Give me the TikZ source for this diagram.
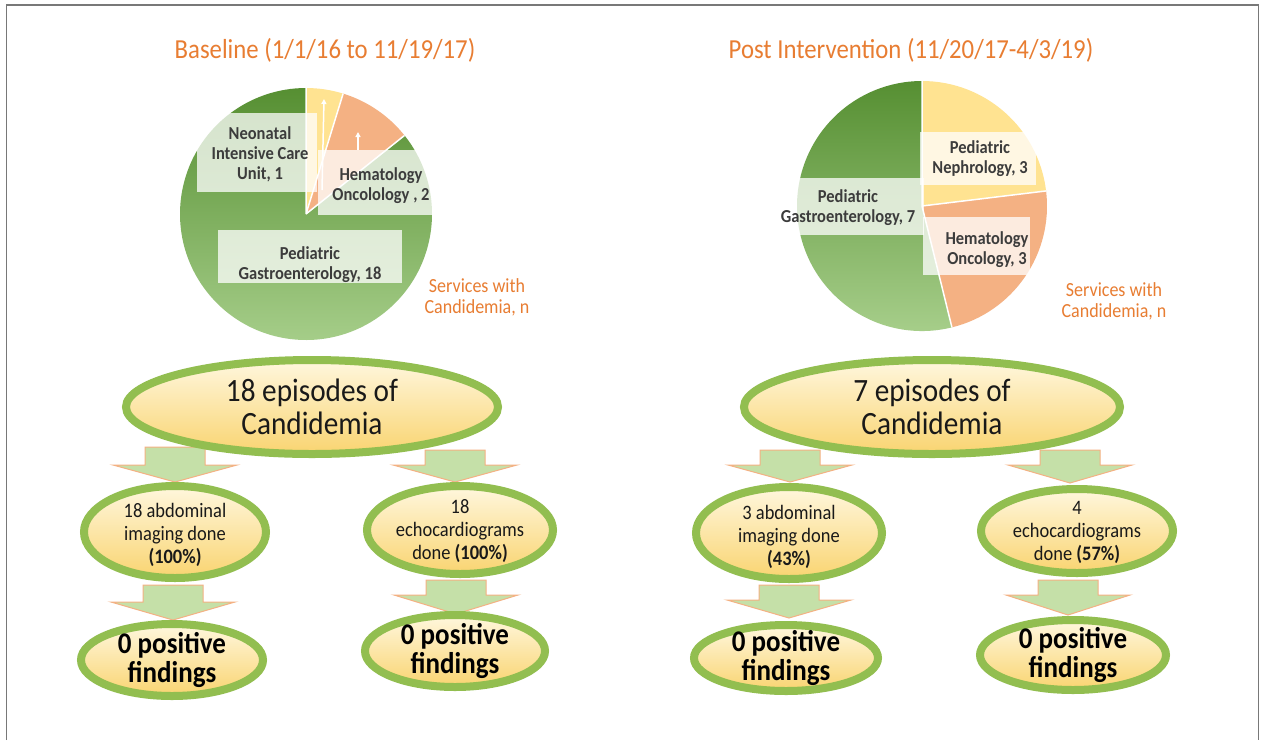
\documentclass[tikz,border=0pt]{standalone}
\usepackage{fontspec}
\setmainfont{Carlito}[FakeStretch=0.9]
\usetikzlibrary{shapes.geometric,arrows.meta}
\definecolor{orng}{RGB}{232,125,50}
\definecolor{ringgreen}{RGB}{146,190,80}
\definecolor{arrowfill}{RGB}{197,224,168}
\definecolor{arrowline}{RGB}{244,177,131}
\definecolor{slyellow}{RGB}{255,227,145}
\definecolor{slorange}{RGB}{244,177,131}
\definecolor{gtop}{RGB}{86,143,50}
\definecolor{gbot}{RGB}{170,209,142}
\definecolor{ftop}{RGB}{255,247,222}
\definecolor{fbot}{RGB}{249,212,112}
\definecolor{txt}{RGB}{25,25,25}
\definecolor{lbl}{RGB}{60,60,60}
\definecolor{framegray}{RGB}{120,120,120}
\tikzset{
  ring/.style={ellipse, draw=ringgreen, line width=8pt, top color=ftop, bottom color=fbot, inner sep=0pt},
  bigtxt/.style={text=txt, align=center, inner sep=0pt, font=\fontsize{32.5}{33}\selectfont},
  midtxt/.style={text=txt, align=center, inner sep=0pt, font=\fontsize{20.5}{23}\selectfont},
  findtxt/.style={text=black, align=center, inner sep=0pt, font=\fontsize{30}{29.5}\selectfont\bfseries},
  lblbox/.style={fill=white, fill opacity=0.75, draw=none, inner sep=0pt},
  lbltxt/.style={text=lbl, align=center, inner sep=0pt, font=\fontsize{18.3}{20}\selectfont\bfseries},
  ttl/.style={text=orng, inner sep=0pt, font=\fontsize{27.5}{29}\selectfont},
  svc/.style={text=orng, align=center, inner sep=0pt, font=\fontsize{20}{21}\selectfont},
  barrow/.style={fill=arrowfill, draw=arrowline, line width=1pt, line join=miter},
  leader/.style={draw=white, line width=1.5pt, -{Triangle[width=5pt,length=5pt]}},
}
\newcommand\blockarrowat[4]{%
  \draw[barrow] (#1-30,-#2) -- (#1+30,-#2) -- (#1+30,-#3) -- (#1+62,-#3) -- (#1,-#4)
    -- (#1-62,-#3) -- (#1-30,-#3) -- cycle;}
\begin{document}
\begin{tikzpicture}[x=1pt,y=1pt]
\useasboundingbox (0,0) rectangle (1261,-740);
\fill[white] (0,0) rectangle (1261,-740);
\draw[framegray, line width=1.5pt] (6.5,-740) -- (6.5,-5) -- (1258.5,-5) -- (1258.5,-740);

% titles
\node[ttl] (t1) at (325,-50) {Baseline (1/1/16 to 11/19/17)};
\node[ttl] (t2) at (911,-50) {Post Intervention (11/20/17-4/3/19)};

% ---------- left pie ----------
\coordinate (P1) at (306,-214);
\shade[top color=gtop, bottom color=gbot] (P1) -- ++(38.57:126) arc[start angle=38.57, end angle=-270, radius=126] -- cycle;
\fill[slyellow] (P1) -- ++(90:126) arc[start angle=90, end angle=72.86, radius=126] -- cycle;
\fill[slorange] (P1) -- ++(72.86:126) arc[start angle=72.86, end angle=38.57, radius=126] -- cycle;
\draw[white, line width=1.5pt] (P1) -- ++(90:126) (P1) -- ++(72.86:126) (P1) -- ++(38.57:126);

\node[lblbox, minimum width=120, minimum height=79] (b1) at (257,-152.5) {};
\node[lblbox, minimum width=114, minimum height=65] (b2) at (375,-182.5) {};
\node[lblbox, minimum width=184, minimum height=53] (b3) at (310,-256.5) {};
\draw[leader] (322,-190) -- (324,-99);
\draw[leader] (358,-150) -- (358,-132);
\node[lbltxt] (l1) at (260,-154) {Neonatal\\Intensive Care\\Unit, 1};
\node[lbltxt] (l2) at (381,-186) {Hematology\\Oncolology , 2};
\node[lbltxt] (l3) at (310,-265) {Pediatric\\Gastroenterology, 18};
\node[svc] (s1) at (477,-297) {Services with\\Candidemia, n};

% ---------- right pie ----------
\coordinate (P2) at (922,-206);
\shade[top color=gtop, bottom color=gbot] (P2) -- ++(-76.15:125) arc[start angle=-76.15, end angle=-270, radius=125] -- cycle;
\fill[slyellow] (P2) -- ++(90:125) arc[start angle=90, end angle=6.92, radius=125] -- cycle;
\fill[slorange] (P2) -- ++(6.92:125) arc[start angle=6.92, end angle=-76.15, radius=125] -- cycle;
\draw[white, line width=1.5pt] (P2) -- ++(90:125) (P2) -- ++(6.92:125) (P2) -- ++(-76.15:125);

\node[lblbox, minimum width=116, minimum height=53] (b4) at (978,-158.5) {};
\node[lblbox, minimum width=107, minimum height=58] (b5) at (976.5,-246) {};
\node[lblbox, minimum width=150, minimum height=57] (b6) at (849,-206.5) {};
\node[lbltxt] (l4) at (980,-159) {Pediatric\\Nephrology, 3};
\node[lbltxt] (l5) at (987,-250) {Hematology\\Oncology, 3};
\node[lbltxt] (l6) at (848,-208) {Pediatric\\Gastroenterology, 7};
\node[svc] (s2) at (1114,-301) {Services with\\Candidemia, n};

% ---------- block arrows ----------
\blockarrowat{175}{447}{465}{482}
\blockarrowat{455}{450}{465}{482}
\blockarrowat{173}{585}{602}{620}
\blockarrowat{456}{580}{595}{614}
\blockarrowat{790}{450}{465}{482}
\blockarrowat{1070}{450}{465}{483}
\blockarrowat{789}{585}{600}{618}
\blockarrowat{1068}{580}{595}{615}

% ---------- ellipses ----------
\node[ring, minimum width=372, minimum height=94] (E1) at (312,-407) {};
\node[bigtxt] (e1t) at (E1.center) {18 episodes of\\Candidemia};
\node[ring, minimum width=376, minimum height=94] (E2) at (932,-407) {};
\node[bigtxt] (e2t) at (E2.center) {7 episodes of\\Candidemia};

\node[ring, minimum width=182, minimum height=92] (A) at (175,-532) {};
\node[midtxt] (At) at ([yshift=-3]A.center) {18 abdominal\\imaging done\\\textbf{(100\%)}};
\node[ring, minimum width=186, minimum height=88] (B) at (460,-530) {};
\node[midtxt] (Bt) at ([yshift=-1]B.center) {18\\echocardiograms\\done \textbf{(100\%)}};
\node[ring, minimum width=186, minimum height=92] (C) at (789,-533) {};
\node[midtxt] (Ct) at ([yshift=-4]C.center) {3 abdominal\\imaging done\\\textbf{(43\%)}};
\node[ring, minimum width=192, minimum height=84] (D) at (1077,-531) {};
\node[midtxt] (Dt) at ([yshift=-1]D.center) {4\\echocardiograms\\done \textbf{(57\%)}};

\node[ring, minimum width=182, minimum height=72] (FA) at (172,-660) {};
\node[findtxt] (FAt) at (FA.center) {0 positive\\findings};
\node[ring, minimum width=180, minimum height=72] (FB) at (455,-651) {};
\node[findtxt] (FBt) at (FB.center) {0 positive\\findings};
\node[ring, minimum width=184, minimum height=66] (FC) at (786,-658) {};
\node[findtxt] (FCt) at (FC.center) {0 positive\\findings};
\node[ring, minimum width=186, minimum height=70] (FD) at (1073,-655) {};
\node[findtxt] (FDt) at (FD.center) {0 positive\\findings};
\end{tikzpicture}
\end{document}
